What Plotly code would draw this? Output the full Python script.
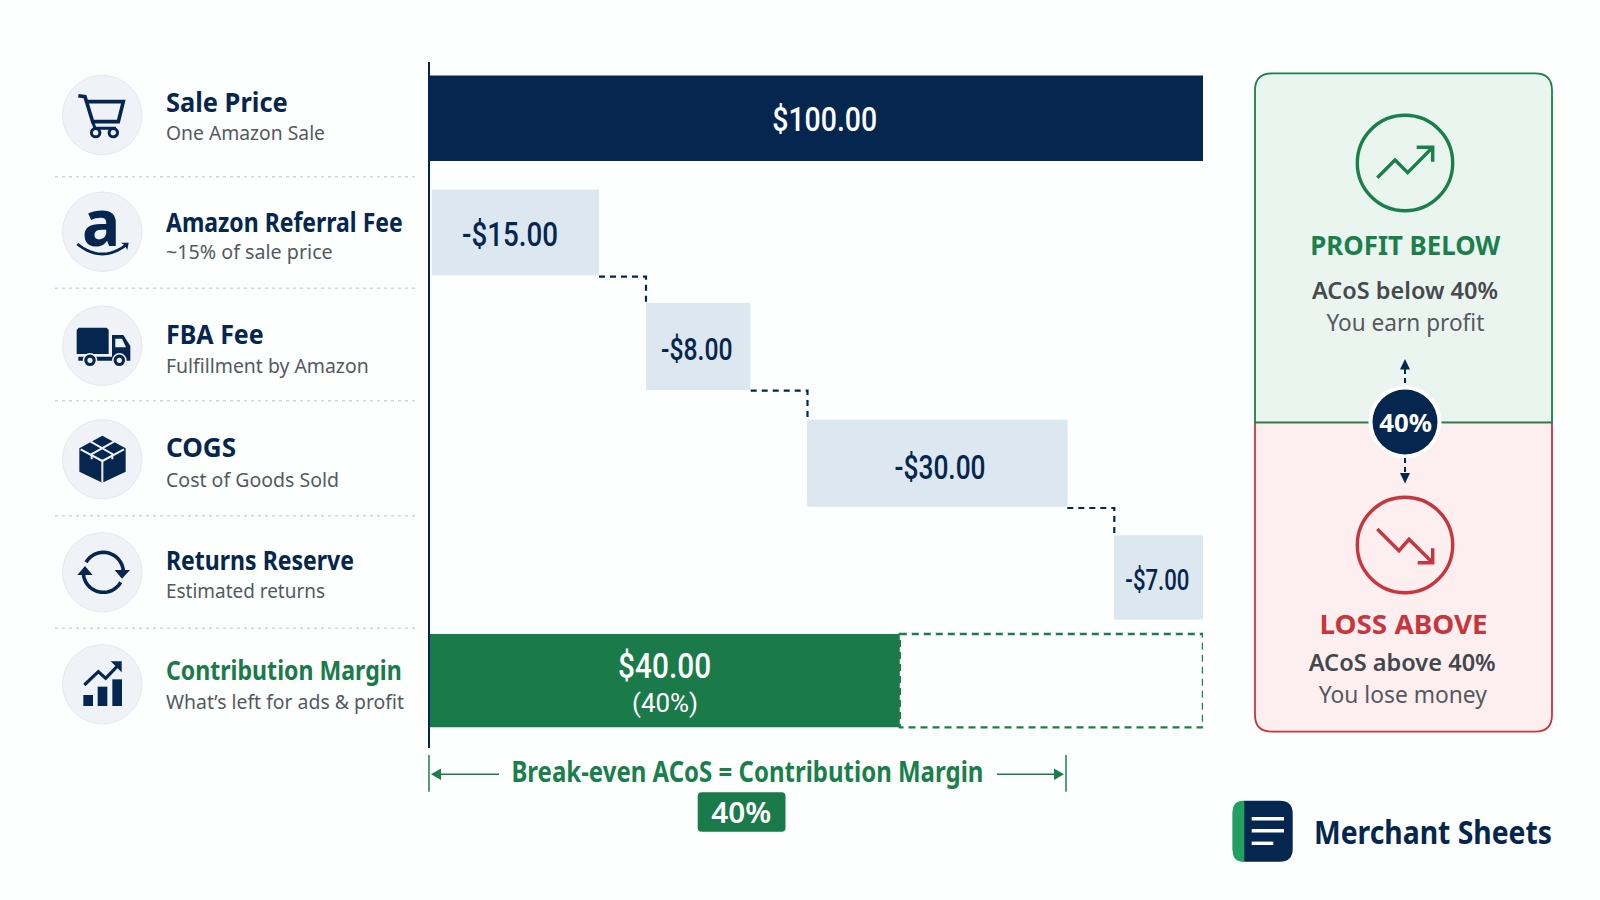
import json
import math
import plotly.graph_objects as go

# ---------- data ----------
categories = ["Sale Price", "Amazon Referral Fee", "FBA Fee", "COGS", "Returns Reserve", "Contribution Margin"]
subtitles = ["One Amazon Sale", "~15% of sale price", "Fulfillment by Amazon", "Cost of Goods Sold", "Estimated returns", "What’s left for ads & profit"]
values = [100, -15, -8, -30, -7, 40]
value_labels = ["$100.00", "-$15.00", "-$8.00", "-$30.00", "-$7.00", "$40.00"]
# the picture is an illustration: drawn extents on its 0-100 axis are not proportional to the amounts
drawn_start = [0, 0.3, 28.0, 48.8, 88.5, 0]
drawn_end = [100, 21.9, 41.5, 82.5, 100, 60.8]
row_pos = [0, 0.997, 1.994, 3.013, 4.011, 4.912]
bar_thick = [0.747, 0.747, 0.76, 0.76, 0.74, 0.815]
label_x = [51.1, 10.4, 34.6, 66.0, 94.15, 30.4]
label_row = [0.006, 1.015, 2.022, 3.046, 4.026, 4.79]
NAVY = "#05264F"
GREEN = "#1A7A49"
PALE = "#DDE7F0"
bar_colors = [NAVY, PALE, PALE, PALE, PALE, GREEN]

SANS = "Noto Sans"
NUM = "Roboto"
GREY = "#55595E"
RED = "#C8363D"
LINEG = "#1A7F4B"

shapes, notes, fit_width = [], [], []


def s(**k):
    k.setdefault("xref", "x2")
    k.setdefault("yref", "y2")
    k.setdefault("layer", "above")
    shapes.append(k)


def path_of(pts, closed=False):
    d = "M " + " L ".join(f"{x:.2f},{y:.2f}" for x, y in pts)
    return d + (" Z" if closed else "")


def stroke(pts, color, w=2.0, dash=None):
    line = dict(color=color, width=w)
    if dash:
        line["dash"] = dash
    s(type="path", path=path_of(pts), line=line)


def fill(pts, color):
    s(type="path", path=path_of(pts, True), fillcolor=color, line=dict(width=0))


def circle(cx, cy, r, fc=None, lc=None, w=0):
    s(type="circle", x0=cx - r, x1=cx + r, y0=cy - r, y1=cy + r,
      fillcolor=fc if fc else "rgba(0,0,0,0)", line=dict(color=lc if lc else "rgba(0,0,0,0)", width=w))


def text(t, x, y, size, color, weight=400, anchor="center", font=SANS, width=None, xref="x2", yref="y2"):
    notes.append(dict(text=t, x=x, y=y, xref=xref, yref=yref, showarrow=False, xanchor=anchor, yanchor="middle",
                      align="left" if anchor == "left" else "center", borderpad=0, borderwidth=0,
                      font=dict(family=font, size=size, color=color, weight=weight)))
    fit_width.append(width)


def z(ox, oy):
    return lambda pts: [(ox + a / 3, oy + b / 3) for a, b in pts]


def arc(cx, cy, r, a0, a1, n=30):
    return [(cx + r * math.cos(math.radians(a0 + (a1 - a0) * i / n)),
             cy + r * math.sin(math.radians(a0 + (a1 - a0) * i / n))) for i in range(n + 1)]


# ---------- left column ----------
circle_y = [115, 231.7, 345.7, 459.3, 572.3, 684.3]
title_y = [101.7, 221.3, 333, 446.7, 559.7, 669.7]
sub_y = [132.7, 251, 365, 479.3, 590.7, 701.7]
sep_y = [176.7, 288.3, 400.7, 515.7, 628.3]
title_w = [121.7, 236.7, 97.7, 70, 188, 235.7]
sub_w = [159, 166.7, 202.7, 173, 159, 238]
for cy in circle_y:
    circle(102.3, cy, 39.7, "#EFF3F8", "#E3E9F0", 1)
for yy in sep_y:
    stroke([(55, yy), (416.7, yy)], "#D3D7DB", 1.5, "3px,4px")
for i, c in enumerate(categories):
    text(c, 165.5, title_y[i], 27, GREEN if i == 5 else NAVY, 700, "left", SANS, title_w[i])
    text(subtitles[i], 165.5, sub_y[i], 20, GREY, 400, "left", SANS, sub_w[i])

# cart
Z = z(40, 50)
stroke(Z([(115, 137), (135, 140), (158, 215), (235, 215), (250, 155), (142, 155)]), NAVY, 3.6)
stroke(Z([(158, 215), (165, 235), (228, 235)]), NAVY, 3)
circle(40 + 167 / 3, 50 + 248 / 3, 4.2, "#EFF3F8", NAVY, 3)
circle(40 + 220 / 3, 50 + 248 / 3, 4.2, "#EFF3F8", NAVY, 3)
# amazon
text("a", 100.5, 221, 64, NAVY, 700, "center", SANS)
Qx = [112 + (262 - 112) * i / 20 for i in range(21)]
stroke(Z([(x, 582 + 30 * (1 - ((x - 187) / 75) ** 2)) for x in Qx]), NAVY, 2.8)
fill(Z([(243, 578), (266, 578), (262, 600), (254, 586)]), NAVY)
# truck
s(type="path", path=path_of(Z([(110, 840), (116, 833), (200, 833), (206, 840), (206, 912), (110, 912)]), True),
  fillcolor=NAVY, line=dict(width=0))
fill(Z([(216, 855), (250, 855), (271, 888), (271, 932), (216, 932)]), NAVY)
fill(Z([(226, 866), (246, 866), (258, 892), (226, 892)]), "#EFF3F8")
fill(Z([(115, 920), (216, 920), (216, 932), (115, 932)]), NAVY)
for wx in (150, 238):
    circle(40 + wx / 3, 50 + 931 / 3, 6.5, NAVY, "#EFF3F8", 1.5)
    circle(40 + wx / 3, 50 + 931 / 3, 2.6, "#EFF3F8")
# box
Z = z(40, 400)
fill(Z([(187, 107), (257, 145), (257, 215), (187, 248), (118, 215), (118, 145)]), NAVY)
stroke(Z([(122, 148), (187, 183), (252, 148)]), "#EFF3F8", 2)
stroke(Z([(187, 183), (187, 248)]), "#EFF3F8", 2)
stroke(Z([(152, 125), (217, 162), (217, 178)]), "#EFF3F8", 2)
stroke(Z([(222, 125), (155, 162), (155, 178)]), "#EFF3F8", 2)
# returns
cx, cy = 40 + 190 / 3, 400 + 517 / 3
stroke(arc(cx, cy, 20, -150, -5), NAVY, 3.6)
stroke(arc(cx, cy, 20, 30, 175), NAVY, 3.6)
fill(Z([(224, 510), (270, 510), (246, 536)]), NAVY)
fill(Z([(112, 525), (158, 525), (135, 498)]), NAVY)
# chart icon
for a, b in ((130, 885), (173, 860), (217, 838)):
    fill(Z([(a, b), (a + 29, b), (a + 29, 918), (a, 918)]), NAVY)
stroke(Z([(133, 855), (175, 815), (197, 835), (240, 790)]), NAVY, 3.2)
fill(Z([(212, 784), (245, 784), (245, 817)]), NAVY)

# ---------- value labels / connectors / dashed box ----------
conn = [(599, 276.7, 646, 303), (750.7, 390.7, 807.5, 419), (1067.3, 508, 1114.3, 535)]
for x0, y0, x1, y1 in conn:
    stroke([(x0, y0), (x1, y0), (x1, y1)], NAVY, 2.2, "6px,5px")
s(type="rect", xref="x", yref="y", x0=drawn_end[5], x1=100,
  y0=row_pos[5] - bar_thick[5] / 2, y1=row_pos[5] + bar_thick[5] / 2,
  line=dict(color=LINEG, width=2.4, dash="7px,5px"), fillcolor="rgba(0,0,0,0)")
colors_lbl = ["white", NAVY, NAVY, NAVY, NAVY, "white"]
sizes_lbl = [34, 33, 31, 33, 30, 35]
label_w = [105, 96, 71.5, 91, 64, 93]
for i, t in enumerate(value_labels):
    text(t, label_x[i], label_row[i], sizes_lbl[i], colors_lbl[i], 500, "center", NUM, label_w[i], "x", "y")
text("(40%)", label_x[5], 5.11, 26, "white", 400, "center", NUM, 66, "x", "y")

# ---------- break-even bracket ----------
stroke([(429, 755), (429, 791.7)], LINEG, 1.5)
stroke([(1066, 755), (1066, 791.7)], LINEG, 1.5)
stroke([(436, 774.3), (499, 774.3)], LINEG, 1.5)
stroke([(997, 774.3), (1058, 774.3)], LINEG, 1.5)
fill([(431, 774.3), (441, 768.5), (441, 780)], LINEG)
fill([(1064, 774.3), (1054, 768.5), (1054, 780)], LINEG)
text("Break-even ACoS = Contribution Margin", 747.3, 770.5, 28, LINEG, 700, "center", SANS, 472)


def rr(x0, y0, x1, y1, r, tl=True, tr=True, br=True, bl=True):
    d = f"M {x0 + (r if tl else 0)},{y0} L {x1 - (r if tr else 0)},{y0} "
    if tr:
        d += f"Q {x1},{y0} {x1},{y0 + r} "
    d += f"L {x1},{y1 - (r if br else 0)} "
    if br:
        d += f"Q {x1},{y1} {x1 - r},{y1} "
    d += f"L {x0 + (r if bl else 0)},{y1} "
    if bl:
        d += f"Q {x0},{y1} {x0},{y1 - r} "
    d += f"L {x0},{y0 + (r if tl else 0)} "
    if tl:
        d += f"Q {x0},{y0} {x0 + r},{y0} "
    return d + "Z"


s(type="path", path=rr(697.7, 792.3, 785.5, 831.7, 4), fillcolor=GREEN, line=dict(width=0))
text("40%", 741.5, 811.5, 29, "white", 600, "center", SANS, 60)

# ---------- right panel ----------
s(type="path", path=rr(1255, 422.3, 1552, 731.7, 17, tl=False, tr=False), fillcolor="#FDEFF0", line=dict(color=RED, width=1.8))
s(type="path", path=rr(1255, 73.3, 1552, 422.3, 17, bl=False, br=False), fillcolor="#EBF5F0", line=dict(color=LINEG, width=1.8))
circle(1405, 163, 47.7, None, LINEG, 3.4)
stroke([(1377.3, 177.7), (1395, 160), (1407.7, 172.7), (1431.7, 148.3)], LINEG, 3.4)
stroke([(1416.7, 147.3), (1432.7, 147.3), (1432.7, 161.7)], LINEG, 3.4)
circle(1405, 545, 47.7, None, RED, 3.4)
stroke([(1377.3, 529), (1399, 550.7), (1409, 539.3), (1432.7, 562.7)], RED, 3.4)
stroke([(1432.7, 548.3), (1432.7, 562.7), (1417.7, 562.7)], RED, 3.4)
circle(1405, 422, 36.5, "white")
circle(1405, 422, 32.5, NAVY)
stroke([(1405, 369), (1405, 386)], NAVY, 2, "5px,4px")
fill([(1405, 359), (1400, 369.5), (1410, 369.5)], NAVY)
stroke([(1405, 458), (1405, 474)], NAVY, 2, "5px,4px")
fill([(1405, 483.5), (1400, 473), (1410, 473)], NAVY)
text("40%", 1405, 421.5, 25, "white", 700, "center", SANS, 52.7)
text("PROFIT BELOW", 1405, 244, 27, LINEG, 700, "center", SANS, 190)
text("ACoS below 40%", 1405, 289.5, 24, "#46494D", 600, "center", SANS, 186)
text("You earn profit", 1405, 321.5, 23, GREY, 400, "center", SANS, 158)
text("LOSS ABOVE", 1403, 623, 27, RED, 700, "center", SANS, 168)
text("ACoS above 40%", 1402, 661.5, 24, "#43474B", 600, "center", SANS, 187)
text("You lose money", 1403, 693.5, 23, GREY, 400, "center", SANS, 168)

# ---------- logo ----------
s(type="path", path=rr(1232.7, 800.7, 1292.7, 861.7, 13), fillcolor=NAVY, line=dict(width=0))
s(type="path", path=rr(1232.7, 800.7, 1244.3, 861.7, 11, tr=False, br=False), fillcolor="#22A060", line=dict(width=0))
for x1, yy in ((1284, 818.7), (1284, 830.7), (1273.3, 843.3)):
    fill([(1251.7, yy - 1.7), (x1, yy - 1.7), (x1, yy + 1.7), (1251.7, yy + 1.7)], "white")
text("Merchant Sheets", 1313.5, 831, 32, NAVY, 700, "left", SANS, 238)

# ---------- figure ----------
fig = go.Figure()
for i, c in enumerate(categories):
    fig.add_trace(go.Bar(y=[row_pos[i]], x=[drawn_end[i] - drawn_start[i]], base=[drawn_start[i]],
                         orientation="h", width=bar_thick[i], name=c,
                         marker=dict(color=bar_colors[i], line=dict(width=0)), showlegend=False))
fig.add_trace(go.Scatter(x=[0], y=[0], xaxis="x2", yaxis="y2", mode="markers", opacity=0, showlegend=False))

fig.update_layout(
    width=1600, height=900, margin=dict(l=0, r=0, t=0, b=0), autosize=False,
    paper_bgcolor="#FDFEFE", plot_bgcolor="rgba(0,0,0,0)", barmode="overlay", showlegend=False,
    xaxis=dict(domain=[429.5 / 1600, 1203 / 1600], range=[0, 100], visible=False),
    yaxis=dict(domain=[1 - 748 / 900, 1 - 62 / 900], range=[5.5, -0.491], showline=True, linecolor=NAVY, linewidth=1.6,
               showgrid=False, zeroline=False, showticklabels=False, ticks=""),
    xaxis2=dict(domain=[0, 1], range=[0, 1600], visible=False, anchor="y2"),
    yaxis2=dict(domain=[0, 1], range=[900, 0], visible=False, anchor="x2"),
    shapes=shapes, annotations=notes,
)
post = "document.body.style.margin='0';var W=" + json.dumps(fit_width) + ";" + """
document.querySelectorAll('.annotation').forEach(function(g){
  var w=W[+g.getAttribute('data-index')]; var t=g.querySelector('text.annotation-text');
  if(w&&t){t.setAttribute('textLength',w);t.setAttribute('lengthAdjust','spacingAndGlyphs');}
});"""
fig.write_html("out.html", post_script=post, config={"displayModeBar": False})
